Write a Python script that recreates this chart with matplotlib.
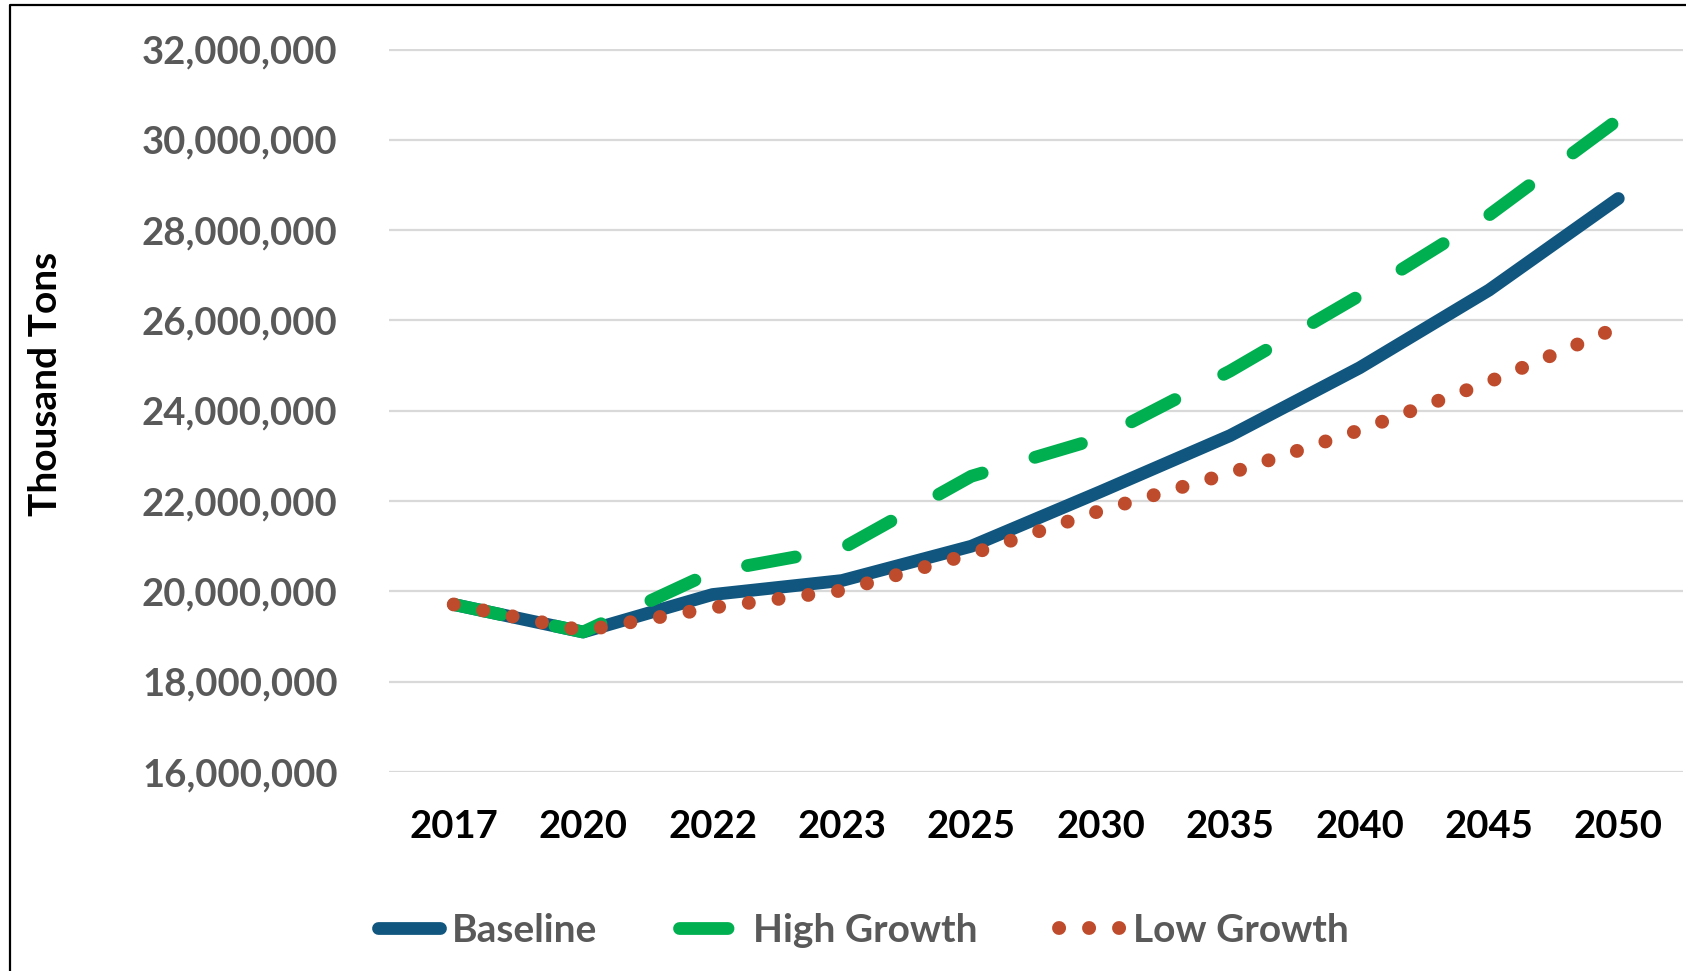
import matplotlib
matplotlib.use("Agg")
import matplotlib.pyplot as plt
from matplotlib.lines import Line2D
from matplotlib.ticker import FuncFormatter

years = ["2017", "2020", "2022", "2023", "2025", "2030", "2035", "2040", "2045", "2050"]
baseline = [19.71e6, 19.10e6, 19.93e6, 20.24e6, 21.00e6, 22.21e6, 23.45e6, 24.95e6, 26.67e6, 28.70e6]
high_growth = [19.71e6, 19.10e6, 20.43e6, 20.95e6, 22.55e6, 23.40e6, 24.88e6, 26.55e6, 28.33e6, 30.45e6]
low_growth = [19.71e6, 19.13e6, 19.64e6, 20.02e6, 20.83e6, 21.79e6, 22.62e6, 23.57e6, 24.64e6, 25.85e6]
y_ticks = [16e6, 18e6, 20e6, 22e6, 24e6, 26e6, 28e6, 30e6, 32e6]

FONT = "Lato"
plt.rcParams['font.family'] = [FONT, 'DejaVu Sans']

W, H = 1686, 971
fig = plt.figure(figsize=(W / 100, H / 100), dpi=100)
ax = fig.add_axes([389 / W, 1 - 772 / H, (1683 - 389) / W, (772 - 49.5) / H])

x = list(range(len(years)))
c_base = "#10567F"
c_high = "#00B050"
c_low = "#BE4B2C"

ax.plot(x, baseline, color=c_base, lw=9.2, solid_capstyle="round", solid_joinstyle="round",
        label="Baseline", zorder=3)
ax.plot(x, high_growth, color=c_high, lw=9.2, linestyle=(0, (3.8, 4.3)), dash_capstyle="round",
        dash_joinstyle="round", label="High Growth", zorder=4)
ax.plot(x, low_growth, color=c_low, lw=10.0, linestyle=(0, (0.01, 2.15)), dash_capstyle="round",
        label="Low Growth", zorder=5)

ax.set_xlim(-0.5, len(years) - 0.5)
ax.set_ylim(16e6, 32e6)
ax.set_yticks(y_ticks)
ax.yaxis.set_major_formatter(FuncFormatter(lambda v, p: f"{int(v):,}"))
ax.set_xticks(x)
ax.set_xticklabels(years)
ax.grid(axis="y", color="#D9D9D9", lw=1.6, zorder=0)
ax.set_axisbelow(True)
for s in ax.spines.values():
    s.set_visible(False)
ax.tick_params(axis="both", length=0)
ax.tick_params(axis="y", pad=37, labelsize=27.5, labelcolor="#595959")
ax.tick_params(axis="x", pad=27, labelsize=27.5, labelcolor="black")
for t in ax.get_yticklabels() + ax.get_xticklabels():
    t.set_fontweight("bold")

fig.text(46 / W, 1 - 384 / H, "Thousand Tons", rotation=90, ha="center", va="center",
         fontsize=28, fontweight="bold", color="black")

leg = fig.legend(loc="center", bbox_to_anchor=(0.512, 1 - 930 / H), ncol=3, frameon=False,
                 handlelength=1.6, handletextpad=0.3, columnspacing=2.1,
                 prop={"family": FONT, "weight": "bold", "size": 28})
for t in leg.get_texts():
    t.set_color("#595959")

fig.add_artist(Line2D([10 / W, 10 / W, 1.0], [0.0, 1 - 5 / H, 1 - 5 / H], transform=fig.transFigure,
                      color="black", lw=1.6))

fig.savefig("out.png", dpi=100)
